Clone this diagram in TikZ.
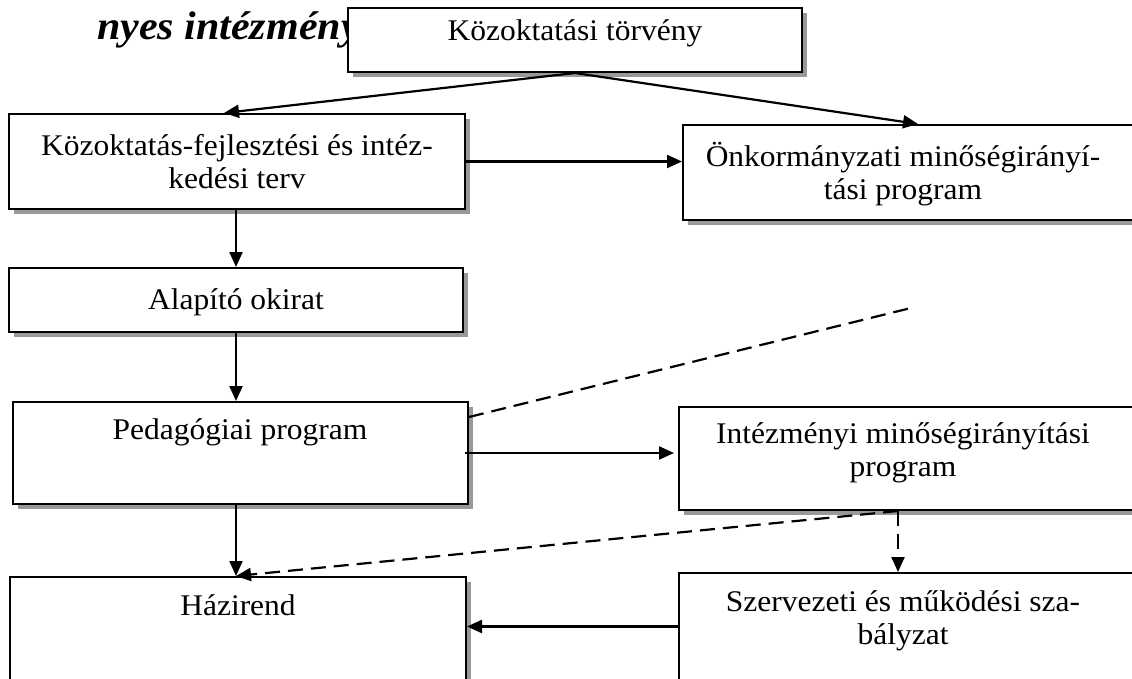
\documentclass[tikz,border=0pt]{standalone}
\usepackage{fontspec}
\setmainfont{Liberation Serif}[FakeStretch=1.05]
\usetikzlibrary{arrows.meta,shadows,calc}
\begin{document}
\begin{tikzpicture}[x=1pt,y=-1pt,
  box/.style={draw, line width=2pt, fill=white,
    drop shadow={shadow xshift=5pt, shadow yshift=-5pt, fill=black!40, opacity=1},
    inner sep=0pt},
  lbl/.style={font=\fontsize{30}{33}\selectfont, align=center, inner sep=0pt},
  arr/.style={line width=2.2pt, -{Triangle[length=15pt,width=13pt]}},
  dsh/.style={line width=2.2pt, dash pattern=on 15pt off 8pt}]
\useasboundingbox (0,0) rectangle (1132,679);
\clip (0,0) rectangle (1132,679);
% partially hidden heading
\node[anchor=base west, inner sep=0pt, font=\fontsize{40}{44}\selectfont\bfseries\itshape] (title) at (97,40) {nyes intézmény};
% boxes
\node[box, minimum width=454pt, minimum height=64pt] (b1) at (575,40) {};
\node[box, minimum width=456pt, minimum height=95pt] (b2) at (237,161.5) {};
\node[box, minimum width=454pt, minimum height=64pt] (b3) at (236,300) {};
\node[box, minimum width=455pt, minimum height=102pt] (b4) at (240.5,453) {};
\node[box, minimum width=456pt, minimum height=123pt] (b5) at (238,638.5) {};
\node[box, minimum width=457pt, minimum height=95pt] (r1) at (911.5,172.5) {};
\node[box, minimum width=461pt, minimum height=103pt] (r2) at (909.5,458.5) {};
\node[box, minimum width=461pt, minimum height=127pt] (r3) at (909.5,636.5) {};
% texts
\node[lbl] (t1) at (575,33) {Közoktatási törvény};
\node[lbl] (t2) at (237,162) {Közoktatás-fejlesztési és intéz-\\kedési terv};
\node[lbl] (t3) at (236,302) {Alapító okirat};
\node[lbl] (t4) at (240,432) {Pedagógiai program};
\node[lbl] (t5) at (238,605) {Házirend};
\node[lbl] (t6) at (903,174) {Önkormányzati minőségirányí-\\tási program};
\node[lbl] (t7) at (903,453) {Intézményi minőségirányítási\\program};
\node[lbl] (t8) at (903,621) {Szervezeti és működési sza-\\bályzat};
% connectors
\draw[arr] (b1.south) -- ([xshift=-13pt]b2.north);
\draw[arr] (b1.south) -- ([xshift=6.5pt]r1.north);
\draw[arr] (b2.east) -- (b2.east -| r1.west);
\draw[arr] ([xshift=-1pt]b2.south) -- ([xshift=-1pt]b2.south |- b3.north);
\draw[arr] (b3.south) -- (b3.south |- b4.north);
\draw[arr] ([xshift=-4pt]b4.east) -- ([xshift=-4pt]b4.east -| r2.west);
\draw[arr] ([xshift=-4.5pt]b4.south) -- ([xshift=-4.5pt]b4.south |- b5.north);
\draw[arr] ([yshift=10pt]r3.west) -- ([yshift=10pt]r3.west -| b5.east);
\coordinate (dend) at (915,307);
\draw[dsh] ([yshift=36pt]b4.east) -- (dend);
\draw[dsh, -{Triangle[length=15pt,width=13pt]}] ([xshift=-11.5pt]r2.south) -- ([xshift=-2pt]b5.north);
\draw[dsh, -{Triangle[length=15pt,width=13pt]}] ([xshift=-11.5pt]r2.south) -- ([xshift=-11.5pt]r2.south |- r3.north);
\end{tikzpicture}
\end{document}
